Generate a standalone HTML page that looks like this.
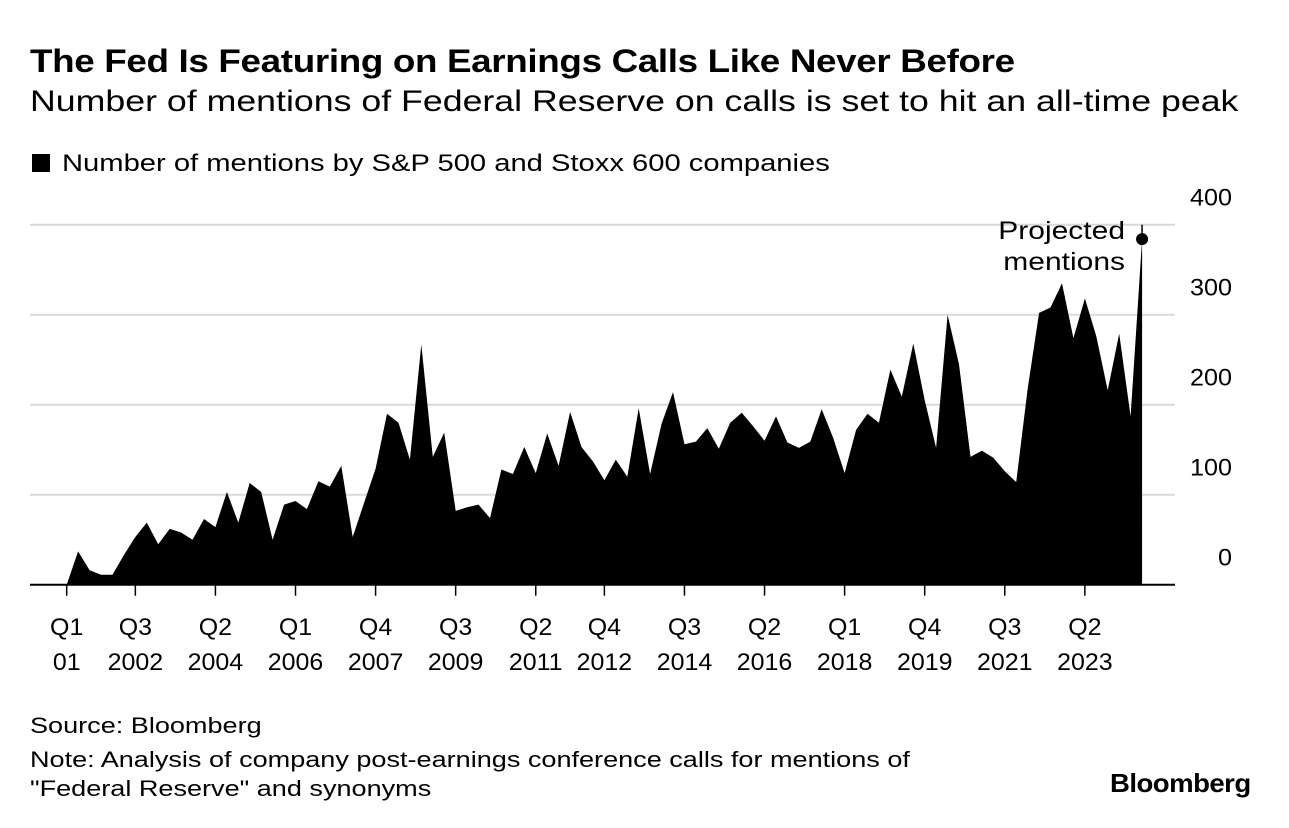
<!DOCTYPE html>
<html><head><meta charset="utf-8"><style>
body{margin:0;background:#fff;width:1289px;height:828px;overflow:hidden;font-family:"Liberation Sans",sans-serif;color:#000}
.t{position:absolute;white-space:nowrap;transform-origin:0 0}
</style></head><body>
<div class="t" style="left:30px;top:43px;font-size:32px;font-weight:bold;letter-spacing:-0.3px;transform:scaleX(1.15)">The Fed Is Featuring on Earnings Calls Like Never Before</div>
<div class="t" style="left:30px;top:85px;font-size:30px;transform:scaleX(1.19)">Number of mentions of Federal Reserve on calls is set to hit an all-time peak</div>
<div class="t" style="left:32px;top:150px;font-size:24px"><span style="display:inline-block;width:18px;height:18px;background:#000;margin-right:12px;vertical-align:-1px"></span><span style="display:inline-block;transform:scaleX(1.215);transform-origin:0 0">Number of mentions by S&amp;P 500 and Stoxx 600 companies</span></div>
<svg id="chart" width="1289" height="828" style="position:absolute;left:0;top:0"></svg>
<div class="t" style="left:30px;top:713px;font-size:22px;transform:scaleX(1.23)">Source: Bloomberg</div>
<div class="t" style="left:30px;top:745px;font-size:22px;line-height:29px;transform:scaleX(1.23)">Note: Analysis of company post-earnings conference calls for mentions of<br>"Federal Reserve" and synonyms</div>
<div class="t" style="left:1110px;top:768px;font-size:26px;font-weight:bold;letter-spacing:-0.5px;transform:scaleX(1.06)">Bloomberg</div>
<script>
const values=[0,37,16,11,11,33,53,69,45,62,58,50,73,64,103,69,113,103,50,89,93,84,115,109,132,53,91,129,190,180,139,267,142,169,82,86,89,74,128,123,153,124,168,132,192,153,137,116,139,120,196,123,179,214,156,159,174,151,180,191,176,160,187,158,152,159,195,163,124,172,190,180,239,209,268,205,152,300,245,142,149,141,126,114,218,302,308,335,274,318,276,216,279,187,384];
const tickIdx=[0,6,13,20,27,34,41,47,54,61,68,75,82,89];
const tickTop=["Q1","Q3","Q2","Q1","Q4","Q3","Q2","Q4","Q3","Q2","Q1","Q4","Q3","Q2"];
const tickBottom=["01","2002","2004","2006","2007","2009","2011","2012","2014","2016","2018","2019","2021","2023"];
const yTicks=[0,100,200,300,400];
const svg=document.getElementById('chart');const NS='http://www.w3.org/2000/svg';
const X=i=>66.7+i*11.44;const Y=v=>584.7-v*0.9;
const FF='Liberation Sans, sans-serif';
function mk(t,a){const e=document.createElementNS(NS,t);for(const k in a)e.setAttribute(k,a[k]);svg.appendChild(e);return e;}
yTicks.forEach(v=>{if(v>0){const g=mk('line',{x1:30,x2:1175,y1:Y(v),y2:Y(v),stroke:'#d9d9d9','stroke-width':2});

}
const t=mk('text',{x:0,y:0,transform:'translate(1232,'+(Y(v)-19)+') scale(1.05,1)','text-anchor':'end','font-size':24,'font-family':FF});t.textContent=v;

});
let d='M'+X(0)+','+Y(0);values.forEach((v,i)=>{d+=' L'+X(i).toFixed(1)+','+Y(v).toFixed(1);});d+=' L'+X(values.length-1)+','+Y(0)+' Z';
const a=mk('path',{d:d,fill:'#000'});


const base=mk('line',{x1:30,x2:1175,y1:Y(0),y2:Y(0),stroke:'#000','stroke-width':2});


tickIdx.forEach((ix,k)=>{const l=mk('line',{x1:X(ix),x2:X(ix),y1:Y(0),y2:Y(0)+11,stroke:'#000','stroke-width':1.5});


const t=mk('text',{x:0,y:0,transform:'translate('+X(ix)+',635) scale(1.04,1)','text-anchor':'middle','font-size':24,'font-family':FF});t.textContent=tickTop[k];


const t2=mk('text',{x:0,y:0,transform:'translate('+X(ix)+',670) scale(1.04,1)','text-anchor':'middle','font-size':24,'font-family':FF});t2.textContent=tickBottom[k];

});
const li=values.length-1;
const al=mk('line',{x1:X(li),x2:X(li),y1:Y(400),y2:Y(values[li]),stroke:'#000','stroke-width':1.5});


const dot=mk('circle',{cx:X(li),cy:Y(values[li]),r:6,fill:'#000'});


['Projected','mentions'].forEach((s,k)=>{const t=mk('text',{x:0,y:0,transform:'translate(1125,'+(239+k*31)+') scale(1.2,1)','text-anchor':'end','font-size':25,'font-family':FF});t.textContent=s;

});
</script>
</body></html>
